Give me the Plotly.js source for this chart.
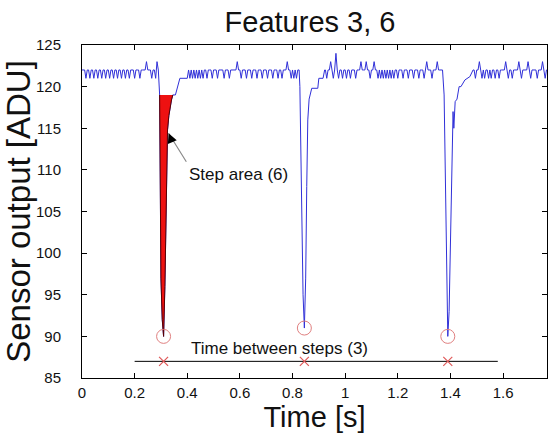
<!DOCTYPE html>
<html>
<head>
<meta charset="utf-8">
<script src="https://cdn.plot.ly/plotly-3.0.1.min.js"></script>
<style>html,body{margin:0;padding:0;background:#fff}#chart{width:549px;height:435px}</style>
</head>
<body>
<div id="chart"></div>
<script>
// ---- data ----
const time = [
  0.000,0.005,0.010,0.015,0.020,0.025,0.030,0.035,0.040,0.045,0.050,0.055,0.060,0.065,0.070,0.075,0.080,0.085,0.090,0.095,
  0.100,0.105,0.110,0.115,0.120,0.125,0.130,0.135,0.140,0.145,0.150,0.155,0.160,0.165,0.170,0.175,0.180,0.185,0.190,0.195,
  0.200,0.205,0.210,0.215,0.220,0.225,0.230,0.235,0.240,0.245,0.250,0.255,0.260,0.265,0.270,0.275,0.280,0.285,
  0.290,0.295,0.300,0.305,0.310,0.315,0.320,0.325,0.330,0.335,0.340,0.345,0.355,0.372,0.400,
  0.405,0.410,0.415,0.420,0.425,0.430,0.435,0.440,0.445,0.450,0.455,0.460,0.465,0.470,0.475,0.480,0.485,0.490,0.495,
  0.500,0.505,0.510,0.515,0.520,0.525,0.530,0.535,0.540,0.545,0.550,0.555,0.560,0.565,0.570,0.575,0.580,0.585,0.590,0.595,
  0.600,0.605,0.610,0.615,0.620,0.625,0.630,0.635,0.640,0.645,0.650,0.655,0.660,0.665,0.670,0.675,0.680,0.685,0.690,0.695,
  0.700,0.705,0.710,0.715,0.720,0.725,0.730,0.735,0.740,0.745,0.750,0.755,0.760,0.765,0.770,0.775,0.780,0.785,0.790,0.795,
  0.800,0.805,0.810,0.815,0.820,0.825,
  0.828,0.835,0.840,0.845,0.850,0.854,0.858,0.863,0.873,0.896,0.900,0.916,0.922,
  0.925,0.930,0.935,0.940,0.945,0.950,0.955,0.960,0.965,0.970,0.975,0.980,0.985,0.990,0.995,
  1.000,1.005,1.010,1.015,1.020,1.025,1.030,1.035,1.040,1.045,1.050,1.055,1.060,1.065,1.070,1.075,1.080,1.085,1.090,1.095,
  1.100,1.105,1.110,1.115,1.120,1.125,1.130,1.135,1.140,1.145,1.150,1.155,1.160,1.165,1.170,1.175,1.180,1.185,1.190,1.195,
  1.200,1.205,1.210,1.215,1.220,1.225,1.230,1.235,1.240,1.245,1.250,1.255,1.260,1.265,1.270,1.275,1.280,1.285,1.290,1.295,
  1.300,1.305,1.310,1.315,1.320,1.325,1.330,1.335,1.340,1.345,1.350,1.355,1.360,1.365,1.370,
  1.376,1.382,1.387,1.390,1.395,1.400,1.405,1.410,1.413,1.418,1.425,1.433,1.440,1.455,1.474,1.486,
  1.490,1.495,1.500,1.505,1.510,1.515,1.520,1.525,1.530,1.535,1.540,1.545,1.550,1.555,1.560,1.565,1.570,1.575,1.580,1.585,
  1.590,1.595,1.600,1.605,1.610,1.615,1.620,1.625,1.630,1.635,1.640,1.645,1.650,1.655,1.660,1.665,1.670,1.675,1.680,1.685,
  1.690,1.695,1.700,1.705,1.710,1.715,1.720,1.725,1.730,1.735,1.740,1.745,1.750,1.755,1.760,1.765,1.770
];
const adu = [
  122,122,122,121,122,122,121,122,122,121,122,122,121,122,122,121,122,122,121,122,
  122,121,122,122,121,122,122,121,122,122,121,122,122,121,122,122,121,122,122,122,
  121,122,122,122,121,122,122,122,122,123,122,122,122,121,122,122,121,123,
  122,119,97,92,90,96,107.6,114.8,116.5,117.6,118.4,119,119,121,121,
  122,121,122,121,122,121,122,121,122,121,122,121,122,122,121,122,122,122,121,
  122,122,122,121,122,122,122,122,121,122,122,122,121,122,122,122,122,122,123,122,
  122,121,122,122,122,121,122,122,122,121,122,122,122,121,122,122,122,121,122,122,
  122,121,122,122,122,121,122,122,122,121,122,122,121,122,122,122,123,122,122,121,
  122,121,122,121,122,122,
  120,105,95,91,97,108,116,118.5,119.8,119.8,121,121,122,
  122,121,122,122,123,122,121,122,124,122,121,122,122,121,122,
  122,121,122,122,121,122,122,122,121,122,122,122,123,122,122,122,123,122,122,121,
  122,122,123,122,122,121,122,121,122,121,122,121,122,121,122,121,122,121,122,122,
  121,122,122,122,121,122,122,122,121,122,122,122,121,122,122,122,121,122,122,122,
  121,122,123,122,122,122,121,122,122,122,123,122,122,122,122,
  119,104,94,90,93,100,110,117,115,118.2,118.5,120,120,120.8,121.2,122,
  122,121,122,122,123,122,121,122,121,122,122,121,122,121,122,122,121,122,122,121,
  122,122,122,122,123,122,121,122,122,121,122,122,122,122,123,122,121,122,122,122,
  122,123,122,121,122,122,122,122,121,122,122,122,123,122,121,122,122
];
// step area (feature 6): portion of the first step below the 119 ADU level
const stepAreaStart = 0.295;
const stepAreaEnd = 0.345;
// step minima (circles) and step instants (crosses, feature 3)
const stepTimes = [0.31, 0.845, 1.39];
const stepMins = [90, 91, 90];
const crossLevel = 87;
const stepLineTimes = [0.2, 1.58];
const xTicks = [0, 0.2, 0.4, 0.6, 0.8, 1, 1.2, 1.4, 1.6];
const xTickText = ['0', '0.2', '0.4', '0.6', '0.8', '1', '1.2', '1.4', '1.6'];
const yTicks = [85, 90, 95, 100, 105, 110, 115, 120, 125];

// build step-area polygon from the signal itself
const areaT = [], areaV = [];
time.forEach((t, i) => { if (t >= stepAreaStart - 1e-9 && t <= stepAreaEnd + 1e-9) { areaT.push(t); areaV.push(adu[i]); } });

const FONT = 'Liberation Sans, Arial, Helvetica, sans-serif';

const traces = [
  { x: time, y: adu, type: 'scatter', mode: 'lines',
    line: { color: '#3030d8', width: 1 }, hoverinfo: 'x+y', showlegend: false },
  { x: areaT, y: areaV, type: 'scatter', mode: 'lines', fill: 'toself',
    fillcolor: '#ee1111', line: { color: '#5a0000', width: 1 }, showlegend: false },
  { x: stepLineTimes, y: stepLineTimes.map(() => crossLevel), type: 'scatter', mode: 'lines',
    line: { color: '#000', width: 1 }, showlegend: false },
  { x: stepTimes, y: stepMins, type: 'scatter', mode: 'markers',
    marker: { symbol: 'circle-open', size: 14, color: '#e08080', line: { width: 1 } }, showlegend: false },
  { x: stepTimes, y: stepTimes.map(() => crossLevel), type: 'scatter', mode: 'markers',
    marker: { symbol: 'x-thin-open', size: 9, color: '#e05a5a', line: { width: 1.2, color: '#e05a5a' } }, showlegend: false }
];

const layout = {
  width: 549, height: 435,
  margin: { l: 82, r: 2, t: 45, b: 57, pad: 0 },
  paper_bgcolor: '#fff', plot_bgcolor: '#fff',
  font: { family: FONT, color: '#111' },
  showlegend: false,
  title: { text: 'Features 3, 6', font: { family: FONT, size: 29, color: '#111' },
           x: 310 / 549, xanchor: 'center', xref: 'container', y: 1 - 22 / 435, yanchor: 'middle' },
  xaxis: {
    range: [0, 1.767], tickvals: xTicks, ticktext: xTickText,
    ticks: 'inside', ticklen: 5, tickcolor: '#000', mirror: 'ticks',
    showline: true, linecolor: '#000', linewidth: 1, showgrid: false, zeroline: false,
    tickfont: { family: FONT, size: 15, color: '#111' }, ticklabelstandoff: 1,
    title: { text: 'Time [s]', font: { family: FONT, size: 29, color: '#111' }, standoff: 0 }
  },
  yaxis: {
    range: [85, 125], tickvals: yTicks,
    ticks: 'inside', ticklen: 5, tickcolor: '#000', mirror: 'ticks',
    showline: true, linecolor: '#000', linewidth: 1, showgrid: false, zeroline: false,
    tickfont: { family: FONT, size: 15, color: '#111' }, ticklabelstandoff: 17,
    title: { text: 'Sensor output [ADU]', font: { family: FONT, size: 33, color: '#111' }, standoff: 2 }
  },
  annotations: [
    { x: 0.329, y: 114.4, xref: 'x', yref: 'y', ax: 0.40, ay: 110.8, axref: 'x', ayref: 'y',
      text: '', showarrow: true, arrowhead: 0, arrowwidth: 1.2, arrowcolor: '#8a8a8a' },
    { x: 0.329, y: 114.4, xref: 'x', yref: 'y', ax: 0.345, ay: 113.2, axref: 'x', ayref: 'y',
      text: '', showarrow: true, arrowhead: 2, arrowsize: 1.6, arrowwidth: 1.2, arrowcolor: '#000' },
    { x: 0.593, y: 109.4, xref: 'x', yref: 'y', text: 'Step area (6)', showarrow: false,
      font: { family: FONT, size: 17, color: '#111' } },
    { x: 0.749, y: 88.55, xref: 'x', yref: 'y', text: 'Time between steps (3)', showarrow: false,
      font: { family: FONT, size: 17, color: '#111' } }
  ]
};

Plotly.newPlot('chart', traces, layout, { displayModeBar: false, staticPlot: true });
</script>
</body>
</html>
